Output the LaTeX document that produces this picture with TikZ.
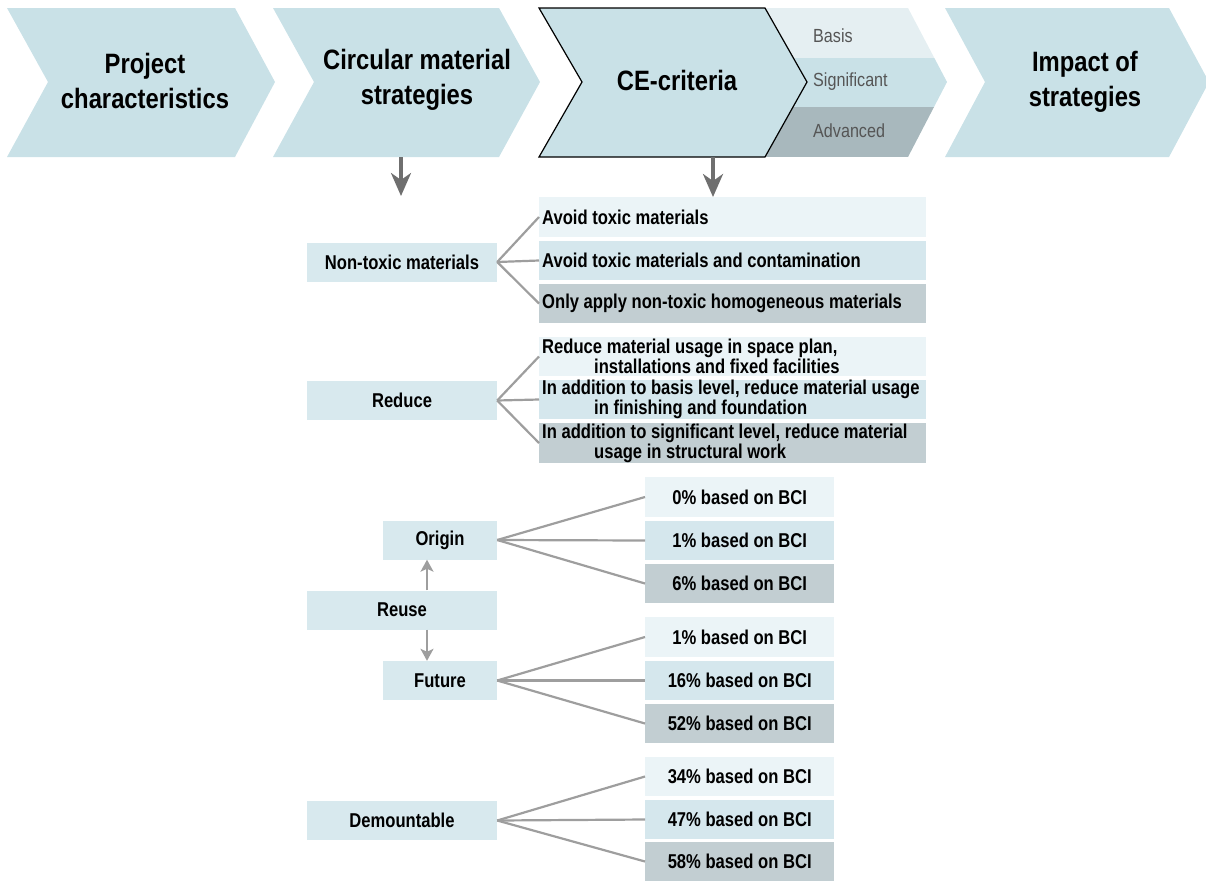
\documentclass[tikz,border=0pt]{standalone}
\usepackage{fontspec}
\setmainfont{Liberation Sans}
\newfontfamily\narrow[FakeStretch=0.85]{Liberation Sans}
\newfontfamily\narrowrow[FakeStretch=0.83]{Liberation Sans}
\usetikzlibrary{arrows.meta}

\definecolor{chevfill}{HTML}{C9E1E7}
\definecolor{rowbasis}{HTML}{EBF4F7}
\definecolor{rowsig}{HTML}{D5E7ED}
\definecolor{rowadv}{HTML}{C2CED2}
\definecolor{stratfill}{HTML}{D8E9EE}
\definecolor{bandbasis}{HTML}{E5EFF2}
\definecolor{bandsig}{HTML}{C9E1E7}
\definecolor{bandadv}{HTML}{A8B8BD}
\definecolor{fanline}{HTML}{9E9E9E}
\definecolor{flowgray}{HTML}{6F6F6F}
\definecolor{leveltext}{HTML}{555555}

\begin{document}
\begin{tikzpicture}[x=1pt,y=-1pt,
  headtext/.style={align=center, font=\narrow\bfseries\fontsize{28}{35}\selectfont},
  leveltxt/.style={anchor=west, inner sep=0pt, text=leveltext, font=\narrow\fontsize{19}{22}\selectfont},
  critrow/.style={anchor=west, minimum height=39.5pt, text width=381pt, inner xsep=3pt, inner ysep=0pt, align=flush left, font=\narrowrow\bfseries\fontsize{20}{18}\selectfont},
  bcirow/.style={anchor=west, minimum width=189pt, minimum height=39.5pt, inner sep=0pt, font=\narrowrow\bfseries\fontsize{20}{18}\selectfont},
  stratbox/.style={fill=stratfill, minimum height=39pt, inner sep=0pt, font=\narrowrow\bfseries\fontsize{20}{18}\selectfont},
  fan/.style={draw=fanline, line width=2.2pt},
  flow/.style={draw=flowgray, line width=3.5pt, -{Stealth[width=20pt,length=23pt,inset=7pt]}},
  link/.style={draw=fanline, line width=2pt, -{Stealth[width=13pt,length=12pt,inset=3pt]}}]

\useasboundingbox (0,0) rectangle (1206,881);
\clip (0,0) rectangle (1206,881);

% process chevrons
\fill[chevfill] (7,8) -- (235,8) -- (275,82) -- (235,157) -- (7,157) -- (48,82) -- cycle;
\fill[chevfill] (273,8) -- (499,8) -- (540,82) -- (499,157) -- (273,157) -- (314,82) -- cycle;
\fill[chevfill] (945,8) -- (1169,8) -- (1209,82) -- (1169,157) -- (945,157) -- (985,82) -- cycle;

% level band behind the CE-criteria chevron
\begin{scope}
  \clip (765,8) -- (908,8) -- (947,82) -- (908,157) -- (765,157) -- (807,82) -- cycle;
  \fill[bandbasis] (760,8) rectangle (950,57.5);
  \fill[bandsig] (760,57.5) rectangle (950,107);
  \fill[bandadv] (760,107) rectangle (950,157);
\end{scope}
\filldraw[fill=chevfill, draw=black, line width=1.2pt, line join=miter]
  (539,8) -- (765,8) -- (807,82) -- (765,157) -- (539,157) -- (582,82) -- cycle;

\node[headtext] (proj) at (145,81) {Project\\characteristics};
\node[headtext] (cms) at (417,80) {Circular material\\strategies};
\node[headtext] (ce) at (677,80) {CE-criteria};
\node[headtext] (impact) at (1085,82) {Impact of\\strategies};

\node[leveltxt] (lbasis) at (813,36) {Basis};
\node[leveltxt] (lsig) at (813,82) {Significant};
\node[leveltxt] (ladv) at (813,131) {Advanced};

\coordinate (cmsfoot) at (401,157);
\coordinate (cmsdown) at (401,196);
\coordinate (cefoot) at (713,157);
\coordinate (cedown) at (713,197);
\draw[flow] (cmsfoot) -- (cmsdown);
\draw[flow] (cefoot) -- (cedown);

% non-toxic materials
\node[stratbox, minimum width=190pt] (nt) at (402,262) {Non-toxic materials};
\node[critrow, fill=rowbasis] (nt1) at (539,217) {Avoid toxic materials};
\node[critrow, fill=rowsig] (nt2) at (539,260.5) {Avoid toxic materials and contamination};
\node[critrow, fill=rowadv] (nt3) at (539,303.5) {Only apply non-toxic homogeneous materials};
\foreach \r in {nt1,nt2,nt3} \draw[fan] (nt.east) -- (\r.west);

% reduce
\node[stratbox, minimum width=190pt] (red) at (402,400.5) {Reduce};
\node[critrow, fill=rowbasis] (red1) at (539,356.5) {\mbox{Reduce material usage in space plan,}\\\mbox{\hspace*{52pt}installations and fixed facilities}};
\node[critrow, fill=rowsig] (red2) at (539,399.5) {\mbox{In addition to basis level, reduce material usage}\\\mbox{\hspace*{52pt}in finishing and foundation}};
\node[critrow, fill=rowadv] (red3) at (539,443) {\mbox{In addition to significant level, reduce material}\\\mbox{\hspace*{52pt}usage in structural work}};
\foreach \r in {red1,red2,red3} \draw[fan] (red.east) -- (\r.west);

% reuse: origin and future
\node[stratbox, minimum width=190pt] (reuse) at (402,610) {Reuse};
\node[stratbox, minimum width=114pt] (origin) at (440,540) {Origin};
\node[stratbox, minimum width=114pt] (future) at (440,680.5) {Future};
\coordinate (linkx) at (427,0);
\draw[link] (reuse.north -| linkx) -- (origin.south -| linkx);
\draw[link] (reuse.south -| linkx) -- (future.north -| linkx);

\node[bcirow, fill=rowbasis] (or1) at (645,497) {0\% based on BCI};
\node[bcirow, fill=rowsig] (or2) at (645,540.5) {1\% based on BCI};
\node[bcirow, fill=rowadv] (or3) at (645,583.5) {6\% based on BCI};
\foreach \r in {or1,or2,or3} \draw[fan] (origin.east) -- (\r.west);

\node[bcirow, fill=rowbasis] (fu1) at (645,637) {1\% based on BCI};
\node[bcirow, fill=rowsig] (fu2) at (645,680.5) {16\% based on BCI};
\node[bcirow, fill=rowadv] (fu3) at (645,723.5) {52\% based on BCI};
\foreach \r in {fu1,fu2,fu3} \draw[fan] (future.east) -- (\r.west);

% demountable
\node[stratbox, minimum width=190pt] (dem) at (402,820.5) {Demountable};
\node[bcirow, fill=rowbasis] (de1) at (645,776.5) {34\% based on BCI};
\node[bcirow, fill=rowsig] (de2) at (645,819.5) {47\% based on BCI};
\node[bcirow, fill=rowadv] (de3) at (645,861.5) {58\% based on BCI};
\foreach \r in {de1,de2,de3} \draw[fan] (dem.east) -- (\r.west);

\end{tikzpicture}
\end{document}
